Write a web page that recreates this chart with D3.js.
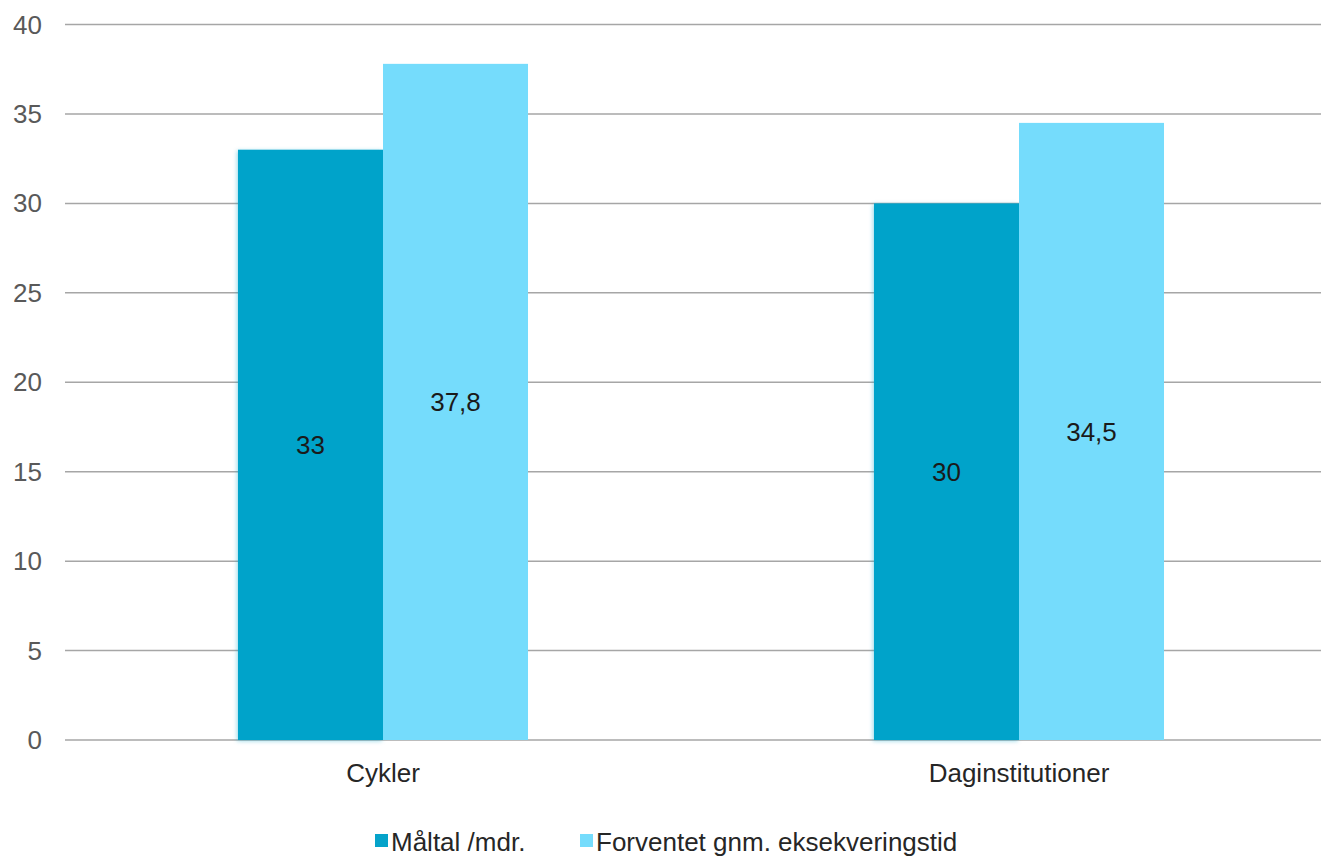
<!DOCTYPE html>
<html>
<head>
<meta charset="utf-8">
<script src="https://cdn.jsdelivr.net/npm/d3@7"></script>
<style>
  body { margin: 0; background: #fff; }
  text { font-family: "Liberation Sans", Arial, sans-serif; }
</style>
</head>
<body>
<div id="chart"></div>
<script>
var categories = ["Cykler", "Daginstitutioner"];
var seriesNames = ["Måltal /mdr.", "Forventet gnm. eksekveringstid"];
var maaltal = [33, 30];
var forventet = [37.8, 34.5];
var yTicks = [0, 5, 10, 15, 20, 25, 30, 35, 40];
var colors = ["#05A3CA", "#75DCFC"];

var width = 1321, height = 856;

var svg = d3.select("#chart").append("svg")
    .attr("width", width)
    .attr("height", height);

var defs = svg.append("defs");
var f = defs.append("filter").attr("id", "shadow")
    .attr("x", "-10%").attr("y", "-5%").attr("width", "120%").attr("height", "110%");
f.append("feDropShadow")
    .attr("dx", -1).attr("dy", 1).attr("stdDeviation", 2)
    .attr("flood-color", "#05A3CA").attr("flood-opacity", 0.4);

// x: one band per category, inner band per series
var x = d3.scaleBand()
    .domain(categories)
    .range([65, 1337])
    .paddingInner(0.544)
    .paddingOuter(0.272);

var x1 = d3.scaleBand()
    .domain([0, 1])
    .range([0, x.bandwidth()]);

var y = d3.scaleLinear()
    .domain([0, 40])
    .range([740, 24.5]);

// gridlines
svg.append("g")
    .selectAll("line")
    .data(yTicks)
    .enter().append("line")
    .attr("x1", 65)
    .attr("x2", width)
    .attr("y1", function (d) { return y(d); })
    .attr("y2", function (d) { return y(d); })
    .attr("stroke", "#a6a6a6")
    .attr("stroke-width", 1.5);

// y tick labels
svg.append("g")
    .selectAll("text")
    .data(yTicks)
    .enter().append("text")
    .attr("x", 42)
    .attr("y", function (d) { return y(d); })
    .attr("dy", "0.35em")
    .attr("text-anchor", "end")
    .attr("font-size", 26)
    .attr("fill", "#595959")
    .text(function (d) { return d; });

var rows = categories.map(function (c, i) {
    return { cat: c, values: [maaltal[i], forventet[i]] };
});

var fmt = function (v) { return String(v).replace(".", ","); };

var g = svg.selectAll(".grp")
    .data(rows)
    .enter().append("g")
    .attr("class", "grp")
    .attr("transform", function (d) { return "translate(" + x(d.cat) + ",0)"; });

g.selectAll("rect")
    .data(function (d) { return d.values.map(function (v, i) { return { v: v, i: i }; }); })
    .enter().append("rect")
    .attr("x", function (d) { return x1(d.i); })
    .attr("y", function (d) { return y(d.v); })
    .attr("width", x1.bandwidth())
    .attr("height", function (d) { return y(0) - y(d.v); })
    .attr("fill", function (d) { return colors[d.i]; })
    .attr("filter", function (d) { return d.i === 0 ? "url(#shadow)" : null; });

g.selectAll(".lbl")
    .data(function (d) { return d.values.map(function (v, i) { return { v: v, i: i }; }); })
    .enter().append("text")
    .attr("class", "lbl")
    .attr("x", function (d) { return x1(d.i) + x1.bandwidth() / 2; })
    .attr("y", function (d) { return (y(d.v) + y(0)) / 2; })
    .attr("dy", "0.35em")
    .attr("text-anchor", "middle")
    .attr("font-size", 26)
    .attr("fill", "#1a1a1a")
    .text(function (d) { return fmt(d.v); });

// category labels
svg.append("g")
    .selectAll("text")
    .data(categories)
    .enter().append("text")
    .attr("x", function (d) { return x(d) + x.bandwidth() / 2; })
    .attr("y", 773)
    .attr("dy", "0.35em")
    .attr("text-anchor", "middle")
    .attr("font-size", 26)
    .attr("fill", "#262626")
    .text(function (d) { return d; });

// legend
var legendX = [375, 580];
var leg = svg.append("g")
    .selectAll("g")
    .data(seriesNames)
    .enter().append("g")
    .attr("transform", function (d, i) { return "translate(" + legendX[i] + ",834)"; });

leg.append("rect")
    .attr("width", 13)
    .attr("height", 13)
    .attr("fill", function (d, i) { return colors[i]; });

leg.append("text")
    .attr("x", 16)
    .attr("y", 8)
    .attr("dy", "0.35em")
    .attr("font-size", 26)
    .attr("fill", "#262626")
    .text(function (d) { return d; });
</script>
</body>
</html>
